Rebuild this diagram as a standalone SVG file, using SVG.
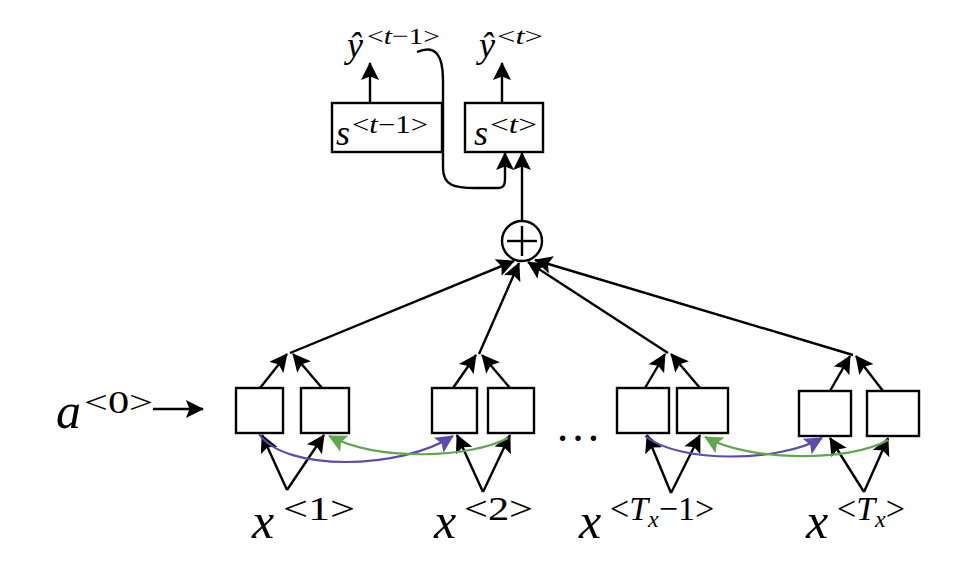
<svg xmlns="http://www.w3.org/2000/svg" width="958" height="564" viewBox="0 0 958 564">
<style>
.v{font-family:"Liberation Serif",serif;font-style:italic;fill:#000}
.n{font-family:"Liberation Serif",serif;font-style:normal;fill:#000}
.box{fill:#fff;stroke:#000;stroke-width:2.4}
.ln{fill:none;stroke:#000;stroke-width:2.4}
.pu{fill:none;stroke:#5a4bb0;stroke-width:2.2}
.gr{fill:none;stroke:#5fa84f;stroke-width:2.2}
</style>
<defs>
<marker id="ah" viewBox="0 0 10 10" refX="9.5" refY="5" markerWidth="20" markerHeight="18" markerUnits="userSpaceOnUse" orient="auto"><path d="M0,0 L10,5 L0,10 L2,5 z" fill="#000"/></marker>
<marker id="ahp" viewBox="0 0 10 10" refX="9.5" refY="5" markerWidth="20" markerHeight="18" markerUnits="userSpaceOnUse" orient="auto"><path d="M0,0 L10,5 L0,10 L2,5 z" fill="#5a4bb0"/></marker>
<marker id="ahg" viewBox="0 0 10 10" refX="9.5" refY="5" markerWidth="20" markerHeight="18" markerUnits="userSpaceOnUse" orient="auto"><path d="M0,0 L10,5 L0,10 L2,5 z" fill="#5fa84f"/></marker>
</defs>

<g id="connectors">
<line class="ln" x1="370" y1="103" x2="370" y2="63" marker-end="url(#ah)"/>
<line class="ln" x1="502" y1="103" x2="502" y2="63" marker-end="url(#ah)"/>
<path class="ln" d="M417,52 C436,44 443,56 443,80 L443,168 C443,186 455,188 475,188 L497,188 C504,188 505,185 505,178 L505,153" marker-end="url(#ah)"/>
<line class="ln" x1="522" y1="221" x2="522" y2="153" marker-end="url(#ah)"/>
<line class="ln" x1="290" y1="353" x2="514" y2="261" marker-end="url(#ah)"/>
<line class="ln" x1="479" y1="354" x2="519" y2="263" marker-end="url(#ah)"/>
<line class="ln" x1="668" y1="353" x2="528" y2="262" marker-end="url(#ah)"/>
<line class="ln" x1="853" y1="355" x2="535" y2="260" marker-end="url(#ah)"/>
<line class="ln" x1="260" y1="388" x2="287" y2="354" marker-end="url(#ah)"/>
<line class="ln" x1="322" y1="388" x2="293" y2="354" marker-end="url(#ah)"/>
<line class="ln" x1="453" y1="388" x2="476" y2="355" marker-end="url(#ah)"/>
<line class="ln" x1="510" y1="388" x2="482" y2="355" marker-end="url(#ah)"/>
<line class="ln" x1="645" y1="388" x2="665" y2="354" marker-end="url(#ah)"/>
<line class="ln" x1="700" y1="388" x2="671" y2="354" marker-end="url(#ah)"/>
<line class="ln" x1="830" y1="391" x2="850" y2="356" marker-end="url(#ah)"/>
<line class="ln" x1="883" y1="391" x2="856" y2="356" marker-end="url(#ah)"/>
<line class="ln" x1="287" y1="490" x2="262" y2="435" marker-end="url(#ah)"/>
<line class="ln" x1="287" y1="490" x2="324" y2="435" marker-end="url(#ah)"/>
<line class="ln" x1="483" y1="492" x2="457" y2="435" marker-end="url(#ah)"/>
<line class="ln" x1="483" y1="492" x2="510" y2="435" marker-end="url(#ah)"/>
<line class="ln" x1="671" y1="493" x2="647" y2="435" marker-end="url(#ah)"/>
<line class="ln" x1="671" y1="493" x2="700" y2="435" marker-end="url(#ah)"/>
<line class="ln" x1="864" y1="492" x2="830" y2="438" marker-end="url(#ah)"/>
<line class="ln" x1="864" y1="492" x2="888" y2="438" marker-end="url(#ah)"/>
<line class="ln" x1="153" y1="409" x2="203" y2="409" marker-end="url(#ah)"/>
<path class="pu" d="M259,434 C285,472 400,470 453,436" marker-end="url(#ahp)"/>
<path class="gr" d="M508,438 C470,458 380,462 329,436" marker-end="url(#ahg)"/>
<path class="pu" d="M645,436 C680,464 780,462 822,438" marker-end="url(#ahp)"/>
<path class="gr" d="M888,440 C850,462 750,462 705,437" marker-end="url(#ahg)"/>
</g>

<g id="yhat_prev"><text class="v" x="347" y="57" font-size="36">ŷ</text><text class="n" x="367" y="44" font-size="24" textLength="73" lengthAdjust="spacingAndGlyphs">&lt;<tspan class="v">t</tspan>−1&gt;</text></g>
<g id="yhat_t"><text class="v" x="479" y="57" font-size="36">ŷ</text><text class="n" x="497" y="44" font-size="24" textLength="46" lengthAdjust="spacingAndGlyphs">&lt;<tspan class="v">t</tspan>&gt;</text></g>

<g id="s_prev"><rect class="box" x="332" y="103" width="110" height="49"/><text class="v" x="336" y="145" font-size="36">s</text><text class="n" x="352" y="133" font-size="25" textLength="76" lengthAdjust="spacingAndGlyphs">&lt;<tspan class="v">t</tspan>−1&gt;</text></g>
<g id="s_t"><rect class="box" x="465" y="103" width="78" height="49"/><text class="v" x="474" y="145" font-size="36">s</text><text class="n" x="490" y="133" font-size="25" textLength="47" lengthAdjust="spacingAndGlyphs">&lt;<tspan class="v">t</tspan>&gt;</text></g>

<g id="sum"><circle cx="522" cy="241" r="20" fill="#fff" stroke="#000" stroke-width="2.4"/><line class="ln" x1="522" y1="226" x2="522" y2="256"/><line class="ln" x1="507" y1="241" x2="537" y2="241"/></g>

<g id="a0"><text class="v" x="56" y="428" font-size="50">a</text><text class="n" x="84" y="413" font-size="32" textLength="69" lengthAdjust="spacingAndGlyphs">&lt;0&gt;</text></g>

<g id="cell1"><rect class="box" x="236" y="388" width="47" height="45"/><rect class="box" x="301" y="388" width="48" height="45"/></g>
<g id="cell2"><rect class="box" x="432" y="388" width="45" height="45"/><rect class="box" x="488" y="388" width="46" height="45"/></g>
<g id="cell3"><rect class="box" x="617" y="388" width="52" height="45"/><rect class="box" x="677" y="388" width="51" height="45"/></g>
<g id="cell4"><rect class="box" x="799" y="391" width="52" height="45"/><rect class="box" x="867" y="391" width="52" height="45"/></g>

<g id="dots"><text class="n" x="555" y="441" font-size="46">…</text></g>

<g id="x1"><text class="v" x="252" y="538" font-size="50">x</text><text class="n" x="283" y="520" font-size="34" textLength="72" lengthAdjust="spacingAndGlyphs">&lt;1&gt;</text></g>
<g id="x2"><text class="v" x="434" y="538" font-size="50">x</text><text class="n" x="464" y="520" font-size="34" textLength="69" lengthAdjust="spacingAndGlyphs">&lt;2&gt;</text></g>
<g id="xTm1"><text class="v" x="579" y="538" font-size="50">x</text><text class="n" x="610" y="520" font-size="34">&lt;<tspan class="v">T</tspan><tspan class="v" font-size="24" dy="7">x</tspan><tspan dy="-7">−1&gt;</tspan></text></g>
<g id="xT"><text class="v" x="806" y="538" font-size="50">x</text><text class="n" x="837" y="520" font-size="34">&lt;<tspan class="v">T</tspan><tspan class="v" font-size="24" dy="7">x</tspan><tspan dy="-7">&gt;</tspan></text></g>
</svg>
